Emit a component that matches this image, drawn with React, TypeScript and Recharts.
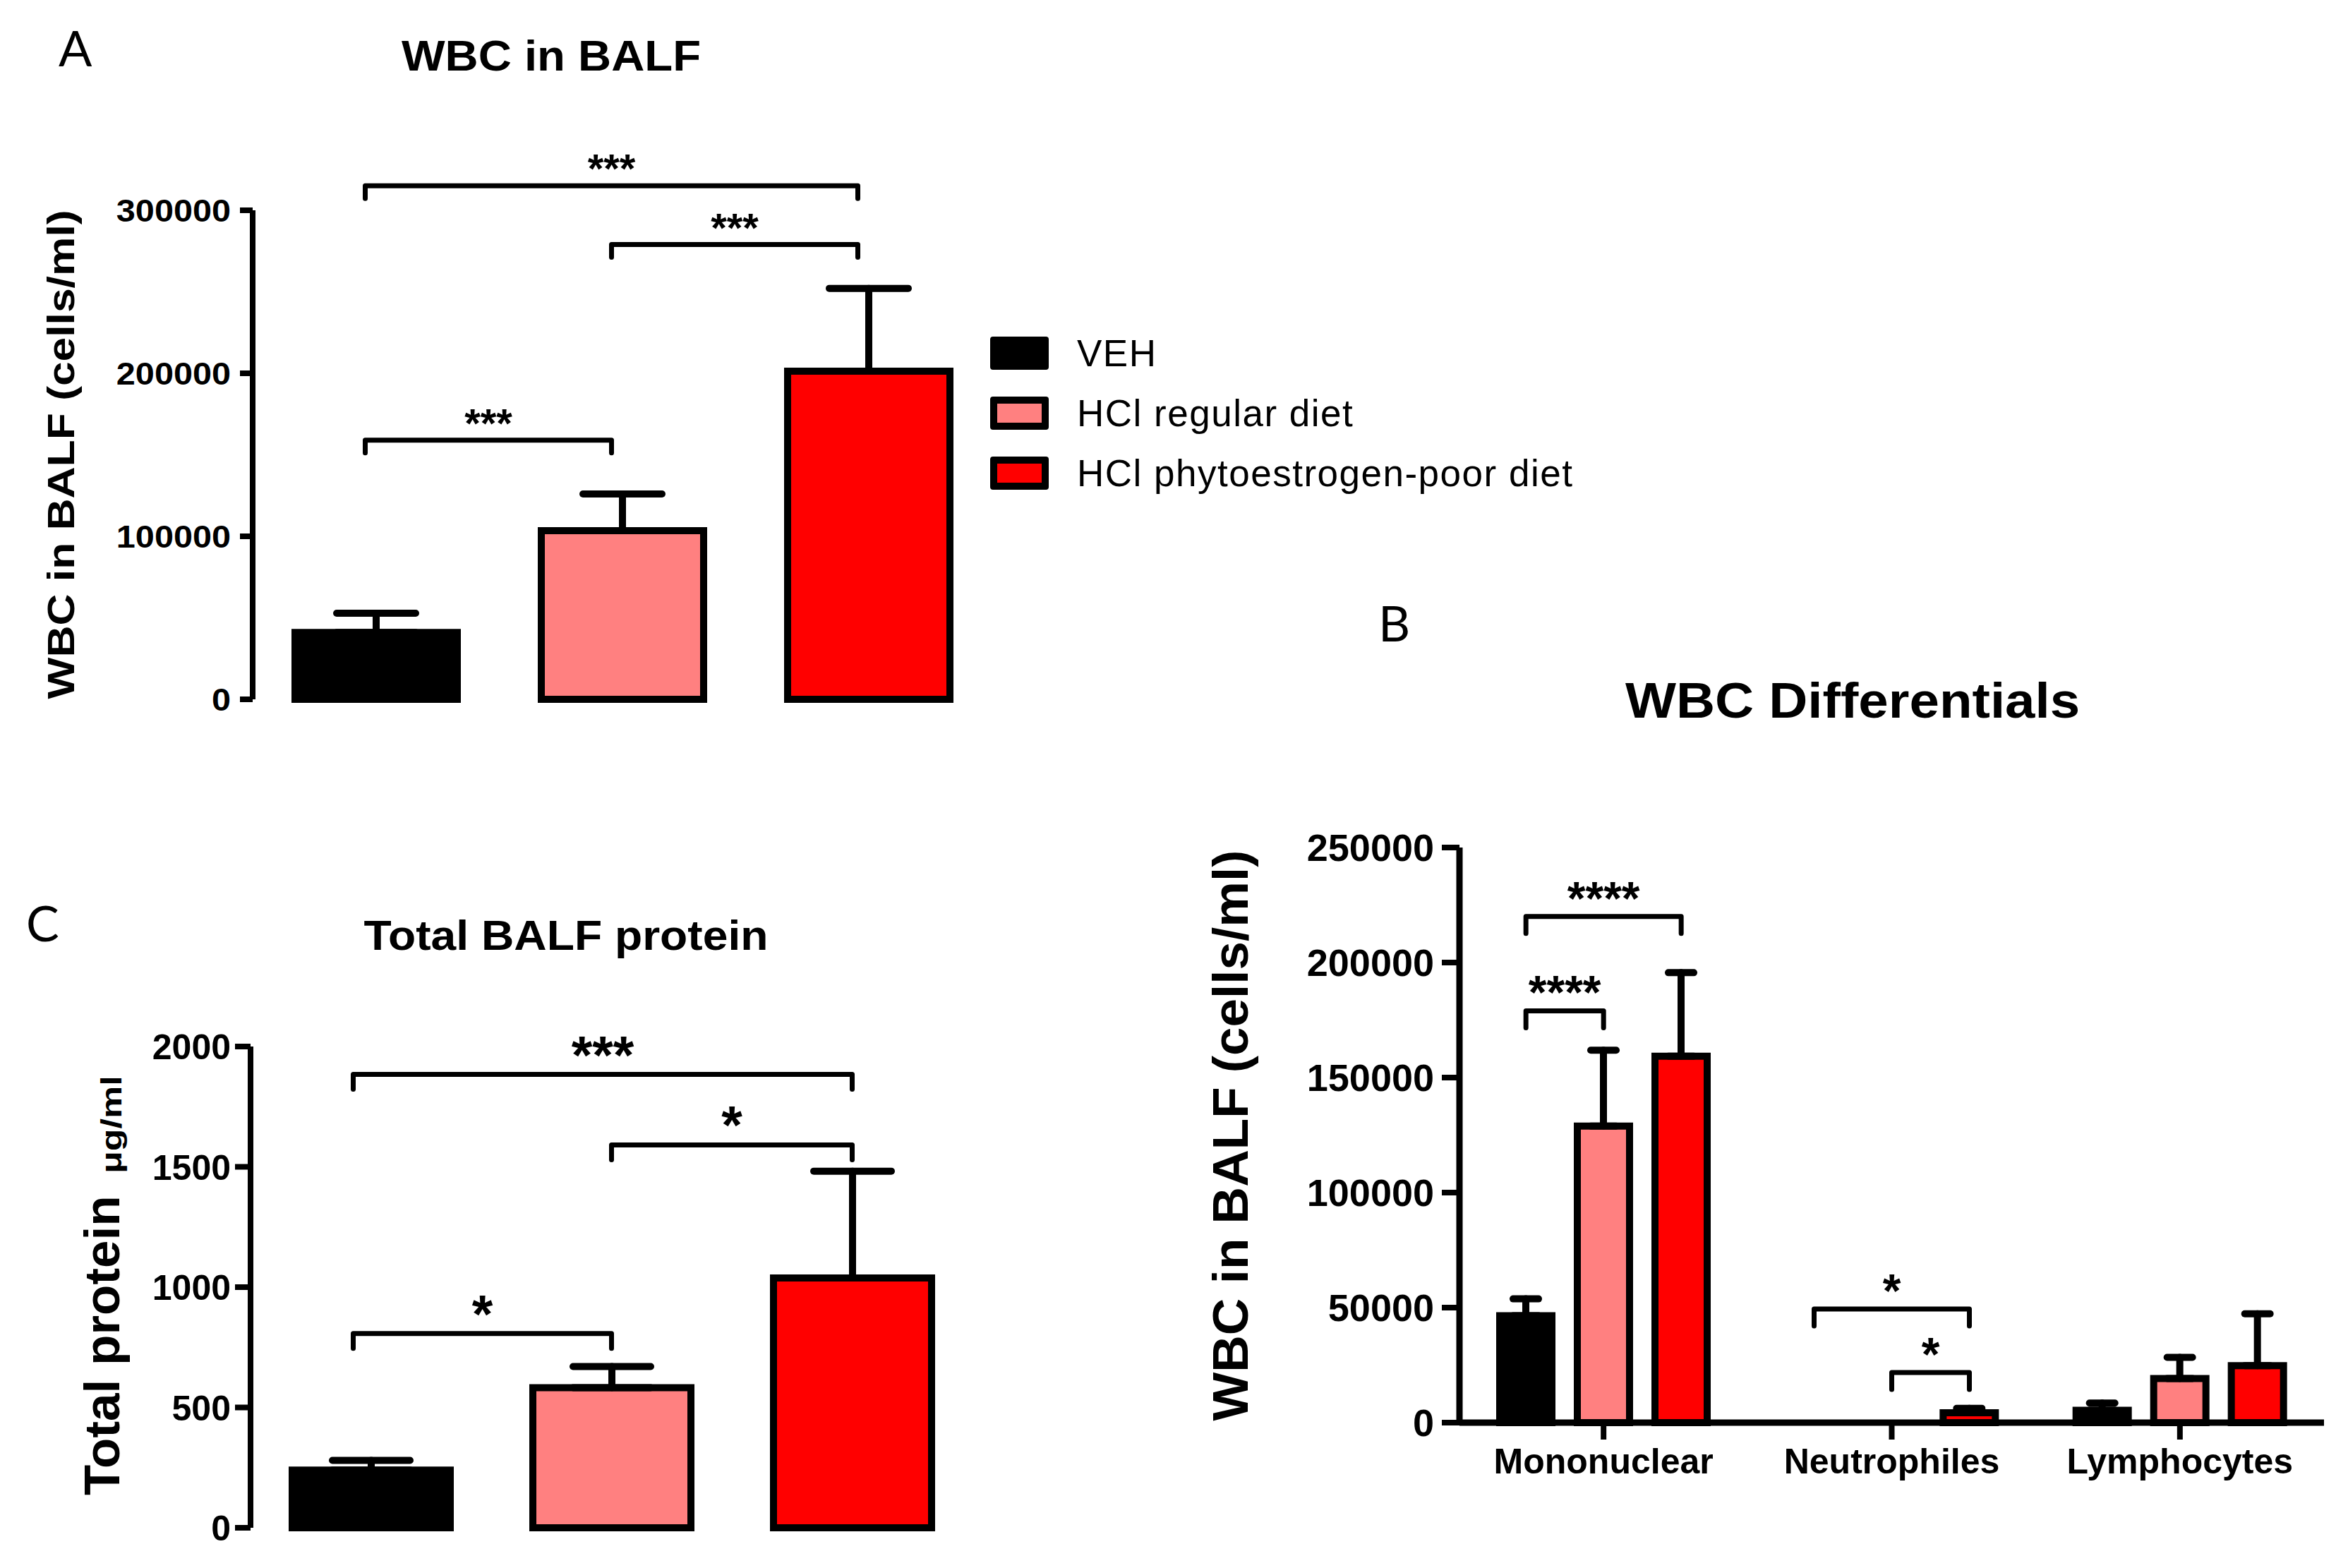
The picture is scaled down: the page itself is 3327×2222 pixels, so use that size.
import React from 'react'
import { BarChart, Bar, XAxis, YAxis, ErrorBar, Cell, ReferenceLine, Legend } from 'recharts'

const FONT = "'Liberation Sans', Arial, Helvetica, sans-serif"
const INK = '#000'

// treatment groups (shared by all three panels)
const groups = ['VEH', 'HCl regular diet', 'HCl phytoestrogen-poor diet']
const groupColors = ['#000000', '#ff8080', '#ff0000']

// A: WBC in BALF (cells/ml), mean and SEM
const wbcMean = [41000, 103500, 201300]
const wbcSem = [11800, 22500, 50800]
const wbcTicks = [0, 100000, 200000, 300000]

// C: total BALF protein (ug/ml)
const proteinMean = [240, 582, 1038]
const proteinSem = [40, 88, 444]
const proteinTicks = [0, 500, 1000, 1500, 2000]

// B: WBC differentials
const cellTypes = ['Mononuclear', 'Neutrophiles', 'Lymphocytes']
const diffVeh = [46500, 0, 5400]
const diffVehSem = [7300, 0, 3100]
const diffRegular = [128900, 0, 19200]
const diffRegularSem = [33000, 0, 9200]
const diffPhyto = [159300, 4300, 24800]
const diffPhytoSem = [36300, 1900, 22500]
const diffTicks = [0, 50000, 100000, 150000, 200000, 250000]

// significance brackets: compared groups, bracket level (axis units), stars
const wbcSig = [
  { from: 0, to: 2, y: 315000, stars: '***' },
  { from: 1, to: 2, y: 279000, stars: '***' },
  { from: 0, to: 1, y: 159000, stars: '***' },
]
const proteinSig = [
  { from: 0, to: 2, y: 1884, stars: '***' },
  { from: 1, to: 2, y: 1591, stars: '*' },
  { from: 0, to: 1, y: 807, stars: '*' },
]
const diffSig = [
  { cell: 0, from: 0, to: 2, y: 220000, stars: '****' },
  { cell: 0, from: 0, to: 1, y: 179000, stars: '****' },
  { cell: 1, from: 0, to: 2, y: 49400, stars: '*' },
  { cell: 1, from: 1, to: 2, y: 21800, stars: '*' },
]

const wbcData = groups.map((g, i) => ({ group: g, mean: wbcMean[i], err: [0, wbcSem[i]] }))
const proteinData = groups.map((g, i) => ({ group: g, mean: proteinMean[i], err: [0, proteinSem[i]] }))
const diffData = cellTypes.map((c, i) => ({
  cell: c,
  veh: diffVeh[i],
  vehErr: [0, diffVehSem[i]],
  regular: diffRegular[i],
  regularErr: [0, diffRegularSem[i]],
  phyto: diffPhyto[i],
  phytoErr: [0, diffPhytoSem[i]],
}))

const axisLine = { stroke: INK, strokeWidth: 8 }

// B: bar size + gap, i.e. distance between neighbouring bar centres in a category
const DIFF_BAR = 74
const DIFF_GAP = 36
const DIFF_STEP = DIFF_BAR + DIFF_GAP

function YTick(props: any) {
  const { x, y, payload, size, sx } = props
  return (
    <text
      transform={`translate(${x},${y}) scale(${sx},1)`}
      dy="0.36em"
      textAnchor="end"
      fontSize={size}
      fontWeight="bold"
      fontFamily={FONT}
      fill={INK}
    >
      {payload.value}
    </text>
  )
}

function XTick(props: any) {
  const { x, y, payload } = props
  return (
    <text x={x} y={y} dy="0.71em" textAnchor="middle" fontSize={50} fontWeight="bold" fontFamily={FONT} fill={INK}>
      {payload.value}
    </text>
  )
}

// bracket drawn as the shape of a ReferenceLine segment; ends shifted by dx1/dx2 px
function bracketShape(stars: string, dx1: number, dx2: number, drop: number, fontSize: number, offset: number) {
  return (p: any) => {
    const xa = p.x1 + dx1
    const xb = p.x2 + dx2
    const y = p.y1
    return (
      <g>
        <path
          d={`M${xa},${y + drop}V${y}H${xb}V${y + drop}`}
          fill="none"
          stroke={INK}
          strokeWidth={7}
          strokeLinecap="round"
          strokeLinejoin="round"
        />
        <text x={(xa + xb) / 2} y={y - offset} textAnchor="middle" fontSize={fontSize} fontWeight="bold" fontFamily={FONT} fill={INK}>
          {stars}
        </text>
      </g>
    )
  }
}

function GroupLegend() {
  return (
    <div style={{ fontFamily: FONT, color: INK }}>
      {groups.map((g, i) => (
        <div key={g} style={{ display: 'flex', alignItems: 'center', height: 47, marginBottom: 38 }}>
          <div
            style={{
              width: 83,
              height: 47,
              boxSizing: 'border-box',
              border: '10px solid #000',
              borderRadius: 4,
              background: groupColors[i],
            }}
          />
          <span style={{ marginLeft: 40, fontSize: 53, lineHeight: 1, letterSpacing: 1.5, whiteSpace: 'nowrap' }}>{g}</span>
        </div>
      ))}
    </div>
  )
}

function VText({ x, y, size, sx = 1, anchor = 'middle', children }: any) {
  return (
    <text
      transform={`translate(${x},${y}) rotate(-90) scale(${sx},1)`}
      textAnchor={anchor}
      fontSize={size}
      fontWeight="bold"
      fontFamily={FONT}
      fill={INK}
    >
      {children}
    </text>
  )
}

function Title({ x, y, size, sx, children }: any) {
  return (
    <text transform={`translate(${x},${y}) scale(${sx},1)`} textAnchor="middle" fontSize={size} fontWeight="bold" fontFamily={FONT} fill={INK}>
      {children}
    </text>
  )
}

function PanelLetter({ x, y, children }: any) {
  return (
    <text x={x} y={y} fontSize={70} fontFamily="Lato, 'Open Sans', sans-serif" fill={INK}>
      {children}
    </text>
  )
}

export default function App() {
  return (
    <div style={{ position: 'absolute', left: 0, top: 0, width: 3327, height: 2222, background: '#fff', overflow: 'hidden' }}>
      {/* A */}
      <div style={{ position: 'absolute', left: 0, top: 0 }}>
        <BarChart width={2300} height={1050} data={wbcData} margin={{ top: 298, right: 895, bottom: 59, left: 0 }}>
          <XAxis dataKey="group" height={0} tick={false} tickLine={false} axisLine={axisLine} />
          <YAxis
            domain={[0, 300000]}
            ticks={wbcTicks}
            interval={0}
            width={358}
            tickSize={18}
            tickMargin={13}
            axisLine={axisLine}
            tickLine={axisLine}
            tick={(p: any) => <YTick {...p} size={45} sx={1.08} />}
          />
          <Bar dataKey="mean" barSize={230} stroke={INK} strokeWidth={10} isAnimationActive={false}>
            {wbcData.map((d, i) => (
              <Cell key={d.group} fill={groupColors[i]} />
            ))}
            <ErrorBar dataKey="err" direction="y" width={56} stroke={INK} strokeWidth={10} strokeLinecap="round" isAnimationActive={false} />
          </Bar>
          {wbcSig.map((b, i) => (
            <ReferenceLine
              key={i}
              ifOverflow="visible"
              segment={[{ x: groups[b.from], y: b.y }, { x: groups[b.to], y: b.y }]}
              shape={bracketShape(b.stars, -15, -15, 18, 58, 4)}
            />
          ))}
          <Legend
            layout="vertical"
            align="center"
            verticalAlign="middle"
            content={GroupLegend}
            wrapperStyle={{ left: 1403, top: 477, width: 900 }}
          />
        </BarChart>
      </div>

      {/* C */}
      <div style={{ position: 'absolute', left: 0, top: 1200 }}>
        <BarChart width={1450} height={1022} data={proteinData} margin={{ top: 283, right: 72, bottom: 57, left: 0 }}>
          <XAxis dataKey="group" height={0} tick={false} tickLine={false} axisLine={axisLine} />
          <YAxis
            domain={[0, 2000]}
            ticks={proteinTicks}
            interval={0}
            width={355}
            tickSize={22}
            tickMargin={6}
            axisLine={axisLine}
            tickLine={axisLine}
            tick={(p: any) => <YTick {...p} size={50} sx={1} />}
          />
          <Bar dataKey="mean" barSize={224} stroke={INK} strokeWidth={10} isAnimationActive={false}>
            {proteinData.map((d, i) => (
              <Cell key={d.group} fill={groupColors[i]} />
            ))}
            <ErrorBar dataKey="err" direction="y" width={55} stroke={INK} strokeWidth={10} strokeLinecap="round" isAnimationActive={false} />
          </Bar>
          {proteinSig.map((b, i) => (
            <ReferenceLine
              key={i}
              ifOverflow="visible"
              segment={[{ x: groups[b.from], y: b.y }, { x: groups[b.to], y: b.y }]}
              shape={bracketShape(b.stars, b.from === 0 ? -25 : 0, 0, 21, 76, 2)}
            />
          ))}
        </BarChart>
      </div>

      {/* B */}
      <div style={{ position: 'absolute', left: 1650, top: 800 }}>
        <BarChart width={1677} height={1422} data={diffData} barGap={DIFF_GAP} margin={{ top: 401, right: 34, bottom: 86, left: 0 }}>
          <XAxis
            dataKey="cell"
            height={120}
            interval={0}
            tickSize={24}
            tickMargin={12}
            axisLine={{ stroke: INK, strokeWidth: 9 }}
            tickLine={axisLine}
            tick={(p: any) => <XTick {...p} />}
          />
          <YAxis
            domain={[0, 250000]}
            ticks={diffTicks}
            interval={0}
            width={418}
            tickSize={25}
            tickMargin={11}
            axisLine={{ stroke: INK, strokeWidth: 9 }}
            tickLine={axisLine}
            tick={(p: any) => <YTick {...p} size={54} sx={1} />}
          />
          <Bar dataKey="veh" fill={groupColors[0]} barSize={DIFF_BAR} stroke={INK} strokeWidth={10} isAnimationActive={false}>
            <ErrorBar dataKey="vehErr" direction="y" width={18} stroke={INK} strokeWidth={10} strokeLinecap="round" isAnimationActive={false} />
          </Bar>
          <Bar dataKey="regular" fill={groupColors[1]} barSize={DIFF_BAR} stroke={INK} strokeWidth={10} isAnimationActive={false}>
            <ErrorBar dataKey="regularErr" direction="y" width={18} stroke={INK} strokeWidth={10} strokeLinecap="round" isAnimationActive={false} />
          </Bar>
          <Bar dataKey="phyto" fill={groupColors[2]} barSize={DIFF_BAR} stroke={INK} strokeWidth={10} isAnimationActive={false}>
            <ErrorBar dataKey="phytoErr" direction="y" width={18} stroke={INK} strokeWidth={10} strokeLinecap="round" isAnimationActive={false} />
          </Bar>
          {diffSig.map((b, i) => (
            <ReferenceLine
              key={i}
              ifOverflow="visible"
              segment={[{ x: cellTypes[b.cell], y: b.y }, { x: cellTypes[b.cell], y: b.y }]}
              shape={bracketShape(b.stars, (b.from - 1) * DIFF_STEP, (b.to - 1) * DIFF_STEP, 24, 66, 3)}
            />
          ))}
        </BarChart>
      </div>

      {/* titles, panel letters and axis titles */}
      <svg width={3327} height={2222} style={{ position: 'absolute', left: 0, top: 0, pointerEvents: 'none' }}>
        <PanelLetter x={83} y={94}>A</PanelLetter>
        <PanelLetter x={1953} y={909}>B</PanelLetter>
        <PanelLetter x={37} y={1334}>C</PanelLetter>
        <Title x={781} y={100} size={61} sx={1.07}>WBC in BALF</Title>
        <Title x={2625} y={1017} size={70} sx={1.09}>WBC Differentials</Title>
        <Title x={802} y={1346} size={60} sx={1.07}>Total BALF protein</Title>
        <VText x={105} y={644} size={54} sx={1.155}>WBC in BALF (cells/ml)</VText>
        <VText x={1768} y={1609} size={70} sx={1.04}>WBC in BALF (cells/ml)</VText>
        <VText x={169} y={2119} size={71} anchor="start">Total protein</VText>
        <VText x={172} y={1663} size={40} sx={1.3} anchor="start">μg/ml</VText>
      </svg>
    </div>
  )
}
